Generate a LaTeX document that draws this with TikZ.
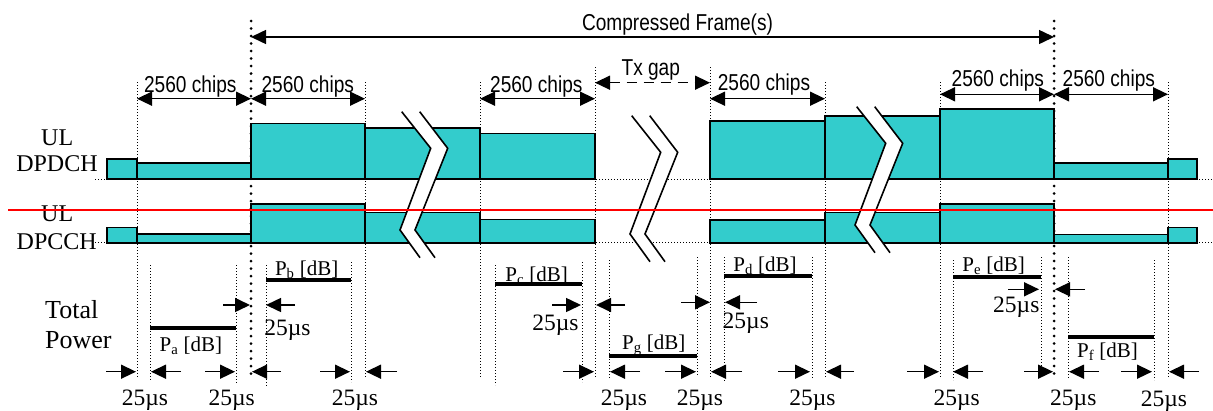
\documentclass[tikz,border=0pt]{standalone}
\usepackage{fontspec}
\setmainfont{Liberation Serif}
\newfontfamily\narrowsf{Liberation Sans}[FakeStretch=0.83]
\usepackage{tikz}
\usetikzlibrary{arrows.meta}
\definecolor{chan}{RGB}{51,204,204}

\begin{document}
\begin{tikzpicture}[x=1pt,y=-1pt,
            block/.style={draw,line width=1.6pt,fill=chan},
            guide/.style={line width=0.8pt,dash pattern=on 1pt off 2pt},
            frameline/.style={line width=3pt,line cap=round,dash pattern=on 0pt off 7.5pt},
            dimline/.style={line width=1.5pt,{Triangle[length=15pt,width=14pt]}-{Triangle[length=15pt,width=14pt]}},
            level/.style={line width=4pt},
            usarrow/.style={line width=1.5pt,-{Triangle[length=15pt,width=14pt]}},
            chips/.style={font=\narrowsf\fontsize{23}{27}\selectfont,anchor=base,inner sep=0},
            lab/.style={font=\fontsize{24}{28}\selectfont,anchor=base,inner sep=0},
            plab/.style={font=\fontsize{21}{25}\selectfont,anchor=base,inner sep=0},
            uslab/.style={font=\fontsize{23.5}{28}\selectfont,anchor=base,inner sep=0}
          ]
          \useasboundingbox (0,0) rectangle (1213,410);

          %slot borders
          \foreach \gx/\gt in {137/82,365/82,480/82,595/67,710/67,825/82,940/82,1168/82}
            \draw[guide] (\gx,\gt) -- (\gx,378);
          \foreach \gx/\gt/\gb in {150/265/380,236/265/383,266/265/386,351/262/382,
                                   495/265/385,582/262/382,609/260/378,697/257/375,
                                   724/257/382,812/257/378,953/260/380,1041/257/373,
                                   1068/257/378,1154/260/380}
            \draw[guide] (\gx,\gt) -- (\gx,\gb);
          \draw[guide] (95,179) -- (1213,179);
          \draw[guide] (95,242.7) -- (1213,242.7);
          \draw[frameline] (251,21) -- (251,378);
          \draw[frameline] (1054,21) -- (1054,378);

          %channels
          \foreach \xa/\xb/\yt in {107/137/158.7,137/251/162.7,251/365/123.3,365/480/127.7,
                                   480/595/133.3,710/825/120.7,825/940/116,940/1054/108.7,
                                   1054/1168/162.7,1168/1197/158.7}
            \draw[block] (\xa,179) rectangle (\xb,\yt);
          \foreach \xa/\xb/\yt in {107/137/227.3,137/251/234,251/365/204,365/480/212.3,
                                   480/595/219.3,710/825/219.7,825/940/212.3,940/1054/204,
                                   1054/1168/234.3,1168/1197/227.3}
            \draw[block] (\xa,242.7) rectangle (\xb,\yt);
          \node[lab] (ul1) at (57.2,145) {UL};
          \node[lab] (dpdch) at (57,171.7) {DPDCH};
          \node[lab] (ul2) at (57.2,221.7) {UL};
          \node[lab] (dpcch) at (56.7,249) {DPCCH};

          %breaks
          \foreach \bx/\by in {401.7/111.7,631.7/115.7,856.7/106.7}{
            \fill[white] (\bx,\by) -- +(29,36.6) -- +(-1.7,118.3) -- +(18.3,146)
              -- +(33.3,146) -- +(13.3,118.3) -- +(46,36.6) -- +(18,0) -- cycle;
            \draw[line width=1.6pt] (\bx,\by) -- +(29,36.6) -- +(-1.7,118.3) -- +(18.3,146);
            \draw[line width=1.6pt] (\bx+18,\by) -- +(28,36.6) -- +(-4.7,118.3) -- +(15.3,146);
          }

          %frame and slot lengths
          \draw[dimline] (251,37) -- (1054,37);
          \node[chips] (cf) at (677.5,30) {Compressed Frame(s)};
          \foreach \xa/\xb/\ya/\lx/\ly [count=\n] in {137/251/98.7/190.3/92.7,251/365/98.7/307.8/92.7,
                                   480/595/98.7/536.3/92.7,710/825/98.7/764/90.5,
                                   940/1054/94.3/997.8/86.5,1054/1168/94.3/1108.8/86.5}{
            \draw[dimline] (\xa,\ya) -- (\xb,\ya);
            \node[chips] (chips\n) at (\lx,\ly) {2560 chips};
          }
          \draw[dimline,dash pattern=on 10pt off 7pt] (595,82.7) -- (710,82.7);
          \node[chips] (txgap) at (650.8,75) {Tx gap};

          %power levels
          \node[font=\fontsize{26}{30}\selectfont,anchor=base west,inner sep=0] (total) at (45,318.3) {Total};
          \node[font=\fontsize{26}{30}\selectfont,anchor=base west,inner sep=0] (power) at (45,348.3) {Power};
          \foreach \la/\lb/\ly/\tx/\ty/\s in {150/236/327.7/190.8/351/a,266/351/279.5/306.7/275/b,
                                   495/582/284.3/536.7/281/c,609/697/355.7/653.8/349.5/g,
                                   724/812/275.5/765/271.7/d,953/1041/277.3/993.7/271/e,
                                   1068/1154/336.7/1107.5/357/f}{
            \draw[level] (\la,\ly) -- (\lb,\ly);
            \node[plab] (p\s) at (\tx,\ty) {P\textsubscript{\s} [dB]};
          }

          %25us ramps
          \foreach \ra/\rb/\rc/\rd/\ry/\tx/\ty [count=\n] in {106/136/181/151/371.7/145/405,
                                   205/235/281/252/371.7/231.7/405,320/350/397/366/371.7/355/405,
                                   563/594/640/610/371.7/624/405,665/696/742/711/371.7/700/405,
                                   778/810/854/826/371.7/812.5/405,907/939/983/953/371.7/956.7/405,
                                   1024/1053/1099/1069/371.7/1073.3/405,1121/1152/1199/1169/371.7/1164/406,
                                   223/250/295/266/305/287.5/335,552/581/625/596/305/555.5/330,
                                   681/710/757/725/302.3/745.8/328.5,1008/1039/1085/1055/289.3/1016.3/312.5}{
            \draw[usarrow] (\ra,\ry) -- (\rb,\ry);
            \draw[usarrow] (\rc,\ry) -- (\rd,\ry);
            \node[uslab] (us\n) at (\tx,\ty) {25µs};
          }

          \draw[red,line width=1.5pt] (8,210) -- (1213,210);
\end{tikzpicture}
\end{document}
